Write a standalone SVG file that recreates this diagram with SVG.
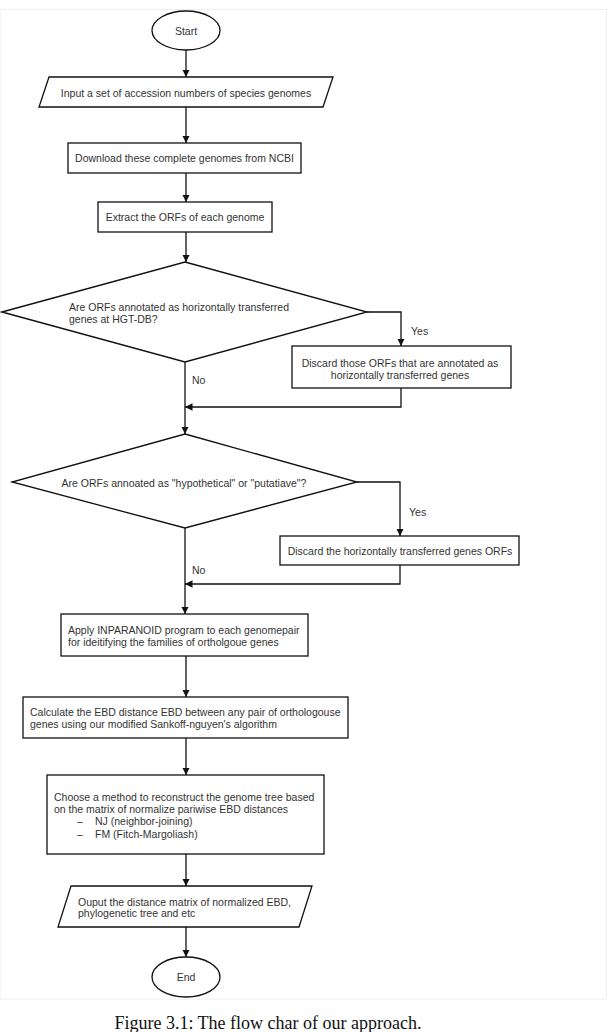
<svg xmlns="http://www.w3.org/2000/svg" width="609" height="1032" viewBox="0 0 609 1032">
<style>
.s{fill:#fff;stroke:#111;stroke-width:1.3}
.t{font-family:"Liberation Sans",Arial,sans-serif;font-size:10.5px;fill:#333}
.m{text-anchor:middle}
.c{fill:none;stroke:#111;stroke-width:1.3}
.cap{font-family:"Liberation Serif","Times New Roman",serif;font-size:18px;fill:#111;text-anchor:middle}
</style>
<defs>
<marker id="ah" viewBox="0 0 10 10" refX="10" refY="5" markerWidth="7.5" markerHeight="7.5" markerUnits="userSpaceOnUse" orient="auto">
<path d="M0,0L10,5L0,10z" fill="#111"/>
</marker>
</defs>
<rect x="0" y="9.5" width="606.5" height="989.5" fill="#fff" stroke="#eee" stroke-width="1"/>
<g id="connectors">
<line class="c" x1="186" y1="50" x2="186" y2="77" marker-end="url(#ah)"/>
<line class="c" x1="186" y1="107" x2="186" y2="143" marker-end="url(#ah)"/>
<line class="c" x1="186" y1="173" x2="186" y2="202" marker-end="url(#ah)"/>
<line class="c" x1="186" y1="232" x2="186" y2="262" marker-end="url(#ah)"/>
<polyline class="c" points="367,312 401,312 401,346" marker-end="url(#ah)"/>
<polyline class="c" points="401,388 401,407 185,407" marker-end="url(#ah)"/>
<line class="c" x1="185" y1="362" x2="185" y2="434" marker-end="url(#ah)"/>
<polyline class="c" points="357,482 400,482 400,536" marker-end="url(#ah)"/>
<polyline class="c" points="400,565 400,584 185,584" marker-end="url(#ah)"/>
<line class="c" x1="185" y1="528" x2="185" y2="614" marker-end="url(#ah)"/>
<line class="c" x1="186" y1="656" x2="186" y2="697" marker-end="url(#ah)"/>
<line class="c" x1="186" y1="738" x2="186" y2="775" marker-end="url(#ah)"/>
<line class="c" x1="186" y1="854" x2="186" y2="886" marker-end="url(#ah)"/>
<line class="c" x1="186" y1="927" x2="186" y2="957" marker-end="url(#ah)"/>
<text class="t" x="411" y="335">Yes</text>
<text class="t" x="192" y="384">No</text>
<text class="t" x="409" y="516">Yes</text>
<text class="t" x="192" y="574">No</text>
</g>
<g id="start">
<ellipse class="s" cx="186" cy="30.5" rx="34" ry="19.5"/>
<text class="t m" x="186" y="34.5">Start</text>
</g>
<g id="input">
<polygon class="s" points="49,77 333,77 323,107 39,107"/>
<text class="t m" x="186" y="96.5">Input a set of accession numbers of species genomes</text>
</g>
<g id="download">
<rect class="s" x="68" y="143" width="233" height="30"/>
<text class="t m" x="184.5" y="162">Download these complete genomes from NCBI</text>
</g>
<g id="extract">
<rect class="s" x="98" y="202" width="174" height="30"/>
<text class="t m" x="185" y="221">Extract the ORFs of each genome</text>
</g>
<g id="decision1">
<polygon class="s" points="185,262 367,312 185,362 2,312"/>
<text class="t" x="69" y="310.5">Are ORFs annotated as horizontally transferred</text>
<text class="t" x="69" y="322.5">genes at HGT-DB?</text>
</g>
<g id="discard1">
<rect class="s" x="292" y="346" width="219" height="42"/>
<text class="t m" x="400" y="366.5">Discard those ORFs that are annotated as</text>
<text class="t m" x="400" y="378.5">horizontally transferred genes</text>
</g>
<g id="decision2">
<polygon class="s" points="185,434 357,482 185,528 12,482"/>
<text class="t m" x="184" y="486.5">Are ORFs annoated as "hypothetical" or "putatiave"?</text>
</g>
<g id="discard2">
<rect class="s" x="280" y="536" width="239" height="29"/>
<text class="t m" x="400" y="555">Discard the horizontally transferred genes ORFs</text>
</g>
<g id="apply">
<rect class="s" x="61" y="614" width="247" height="42"/>
<text class="t" x="68" y="633.5">Apply INPARANOID program to each genomepair</text>
<text class="t" x="68" y="646">for ideitifying the families of ortholgoue genes</text>
</g>
<g id="calculate">
<rect class="s" x="23" y="697" width="325" height="41"/>
<text class="t" x="30" y="715.5">Calculate the EBD distance EBD between any pair of orthologouse</text>
<text class="t" x="30" y="728">genes using our modified Sankoff-nguyen's algorithm</text>
</g>
<g id="choose">
<rect class="s" x="47" y="775" width="277" height="79"/>
<text class="t" x="54" y="800.5">Choose a method to reconstruct the genome tree based</text>
<text class="t" x="54" y="813">on the matrix of normalize pariwise EBD distances</text>
<text class="t" x="77" y="825">–</text>
<text class="t" x="95" y="825">NJ (neighbor-joining)</text>
<text class="t" x="77" y="837.5">–</text>
<text class="t" x="95" y="837.5">FM (Fitch-Margoliash)</text>
</g>
<g id="output">
<polygon class="s" points="71,886 312,886 299,927 58,927"/>
<text class="t" x="78" y="905.5">Ouput the distance matrix of normalized EBD,</text>
<text class="t" x="78" y="917">phylogenetic tree and etc</text>
</g>
<g id="end">
<ellipse class="s" cx="186" cy="977" rx="34" ry="20"/>
<text class="t m" x="186" y="981">End</text>
</g>
<text class="cap" x="268" y="1029">Figure 3.1: The flow char of our approach.</text>
</svg>
